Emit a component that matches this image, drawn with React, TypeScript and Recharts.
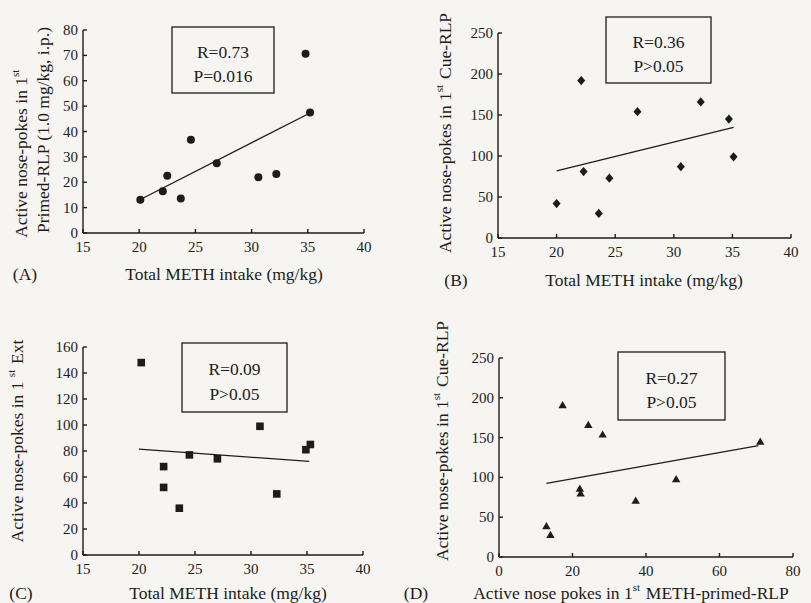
import React from 'react';
import { ScatterChart, Scatter, XAxis, YAxis, ReferenceLine } from 'recharts';

const W = 811;
const H = 603;
const FONT = '"Liberation Serif", "DejaVu Serif", serif';
const INK = '#1c1c1c';

// (A) total METH intake vs active nose-pokes in 1st primed reinstatement
const intakeA = [20.1, 22.1, 22.5, 23.7, 24.6, 26.9, 30.6, 32.2, 34.8, 35.2];
const primedA = [13.1, 16.5, 22.6, 13.6, 36.7, 27.5, 22.0, 23.3, 70.6, 47.5];
const fitA = [{ x: 20.1, y: 13.2 }, { x: 35.2, y: 47.3 }];

// (B) total METH intake vs 1st cue reinstatement
const intakeB = [20.0, 22.1, 22.3, 23.6, 24.5, 26.9, 30.6, 32.3, 34.7, 35.1];
const cueB = [42, 192, 81, 30, 73, 154, 87, 166, 145, 99];
const fitB = [{ x: 20.0, y: 82 }, { x: 35.1, y: 135 }];

// (C) total METH intake vs 1st extinction session
const intakeC = [20.2, 22.2, 22.2, 23.6, 24.5, 27.0, 30.8, 32.3, 34.9, 35.3];
const extC = [148, 68, 52, 36, 77, 74, 99, 47, 81, 85];
const fitC = [{ x: 20.0, y: 81.5 }, { x: 35.2, y: 72 }];

// (D) primed reinstatement vs cue reinstatement
const primedD = [12.9, 14.0, 17.3, 22.0, 22.2, 24.3, 28.2, 37.2, 48.2, 71.1];
const cueD = [39, 28, 191, 86, 80, 166, 154, 71, 98, 145];
const fitD = [{ x: 12.9, y: 92.5 }, { x: 70.6, y: 140 }];

const methTicks = [15, 20, 25, 30, 35, 40];
const primedTicks = [0, 20, 40, 60, 80];
const ticksA = [0, 10, 20, 30, 40, 50, 60, 70, 80];
const ticks250 = [0, 50, 100, 150, 200, 250];
const ticksC = [0, 20, 40, 60, 80, 100, 120, 140, 160];

const toPoints = (xs: number[], ys: number[]) => xs.map((x, i) => ({ x, y: ys[i] }));

const marker = (kind: string) => (props: any) => {
  const { cx, cy } = props;
  if (cx == null || cy == null) return <g />;
  if (kind === 'circle') return <circle cx={cx} cy={cy} r={4} fill={INK} />;
  if (kind === 'square') return <rect x={cx - 3.8} y={cy - 3.8} width={7.6} height={7.6} fill={INK} />;
  if (kind === 'diamond')
    return <polygon points={`${cx},${cy - 4.6} ${cx + 4},${cy} ${cx},${cy + 4.6} ${cx - 4},${cy}`} fill={INK} />;
  return <polygon points={`${cx},${cy - 4} ${cx + 4.2},${cy + 3.2} ${cx - 4.2},${cy + 3.2}`} fill={INK} />;
};

const textStyle = { fill: INK, fontSize: 17.5, fontFamily: FONT };

// serif tick labels; the axis passes the computed anchor position
const XTick = (props: any) => (
  <text x={props.x} y={props.y + 8} textAnchor="middle" style={{ fill: INK, fontSize: 15, fontFamily: FONT }}>
    {props.payload.value}
  </text>
);
const YTick = (props: any) => (
  <text x={props.x} y={props.y} textAnchor="end" dominantBaseline="central" style={{ fill: INK, fontSize: 15, fontFamily: FONT }}>
    {props.payload.value}
  </text>
);

const Sup = ({ children }: { children: string }) => (
  <>
    <tspan dy={-6} fontSize={11}>{children}</tspan>
    <tspan dy={6}>{'\u200a'}</tspan>
  </>
);

const VTitle = ({ x, y, children }: { x: number; y: number; children: React.ReactNode }) => (
  <text
    x={x}
    y={y}
    transform={`rotate(-90 ${x} ${y})`}
    textAnchor="middle"
    dominantBaseline="central"
    style={textStyle}
  >
    {children}
  </text>
);

const HText = ({ x, y, children }: { x: number; y: number; children: React.ReactNode }) => (
  <text x={x} y={y} textAnchor="middle" dominantBaseline="central" style={textStyle}>
    {children}
  </text>
);

const StatBox = ({ x1, y1, x2, y2, r, p }: { x1: number; y1: number; x2: number; y2: number; r: string; p: string }) => {
  const cx = (x1 + x2) / 2;
  const h = y2 - y1;
  return (
    <g>
      <rect x={x1} y={y1} width={x2 - x1} height={h} fill="none" stroke={INK} strokeWidth={1.3} />
      <HText x={cx} y={y1 + h * 0.38}>{r}</HText>
      <HText x={cx} y={y1 + h * 0.74}>{p}</HText>
    </g>
  );
};

interface PanelProps {
  data: { x: number; y: number }[];
  fit: { x: number; y: number }[];
  xDomain: [number, number];
  xTicks: number[];
  yDomain: [number, number];
  yTicks: number[];
  margin: { top: number; right: number; bottom: number; left: number };
  shape: string;
  children?: React.ReactNode;
}

const Panel = ({ data, fit, xDomain, xTicks, yDomain, yTicks, margin, shape, children }: PanelProps) => (
  <div style={{ position: 'absolute', left: 0, top: 0 }}>
    <ScatterChart width={W} height={H} margin={margin}>
      <XAxis
        type="number"
        dataKey="x"
        domain={xDomain}
        ticks={xTicks}
        interval={0}
        height={20}
        stroke={INK}
        strokeWidth={1.4}
        tickSize={-4}
        tickMargin={15}
        tick={<XTick />}
        allowDataOverflow
      />
      <YAxis
        type="number"
        dataKey="y"
        domain={yDomain}
        ticks={yTicks}
        interval={0}
        width={30}
        stroke={INK}
        strokeWidth={1.4}
        tickSize={-4}
        tickMargin={9}
        tick={<YTick />}
        allowDataOverflow
      />
      <ReferenceLine segment={fit} stroke={INK} strokeWidth={1.3} ifOverflow="visible" />
      <Scatter data={data} shape={marker(shape)} isAnimationActive={false} />
      {children}
    </ScatterChart>
  </div>
);

export default function App() {
  return (
    <div style={{ position: 'absolute', left: 0, top: 0, width: W, height: H, background: '#f6f5f1', fontFamily: FONT }}>
      <Panel
        data={toPoints(intakeA, primedA)}
        fit={fitA}
        xDomain={[15, 40]}
        xTicks={methTicks}
        yDomain={[0, 80]}
        yTicks={ticksA}
        margin={{ top: 30, right: 447, bottom: 350, left: 53 }}
        shape="circle"
      >
        <VTitle x={21} y={153}>
          Active nose-pokes in 1<Sup>st</Sup>
        </VTitle>
        <VTitle x={43} y={130}>Primed-RLP (1.0 mg/kg, i.p.)</VTitle>
        <HText x={224} y={274}>Total METH intake (mg/kg)</HText>
        <HText x={25} y={274}>(A)</HText>
        <StatBox x1={172} y1={27} x2={274} y2={93} r="R=0.73" p="P=0.016" />
      </Panel>

      <Panel
        data={toPoints(intakeB, cueB)}
        fit={fitB}
        xDomain={[15, 40]}
        xTicks={methTicks}
        yDomain={[0, 250]}
        yTicks={ticks250}
        margin={{ top: 33, right: 20, bottom: 345, left: 468 }}
        shape="diamond"
      >
        <VTitle x={445} y={133}>
          Active nose-pokes in 1<Sup>st</Sup> Cue-RLP
        </VTitle>
        <HText x={644} y={280}>Total METH intake (mg/kg)</HText>
        <HText x={456} y={280}>(B)</HText>
        <StatBox x1={606} y1={17} x2={711} y2={83} r="R=0.36" p="P>0.05" />
      </Panel>

      <Panel
        data={toPoints(intakeC, extC)}
        fit={fitC}
        xDomain={[15, 40]}
        xTicks={methTicks}
        yDomain={[0, 160]}
        yTicks={ticksC}
        margin={{ top: 347, right: 448, bottom: 28, left: 53 }}
        shape="square"
      >
        <VTitle x={17} y={441}>
          Active nose-pokes in 1 <Sup>st</Sup> Ext
        </VTitle>
        <HText x={228} y={593}>Total METH intake (mg/kg)</HText>
        <HText x={21} y={593}>(C)</HText>
        <StatBox x1={182} y1={343} x2={287} y2={412} r="R=0.09" p="P>0.05" />
      </Panel>

      <Panel
        data={toPoints(primedD, cueD)}
        fit={fitD}
        xDomain={[0, 80]}
        xTicks={primedTicks}
        yDomain={[0, 250]}
        yTicks={ticks250}
        margin={{ top: 358, right: 18, bottom: 26, left: 469 }}
        shape="triangle"
      >
        <VTitle x={442} y={441}>
          Active nose-pokes in 1<Sup>st</Sup> Cue-RLP
        </VTitle>
        <HText x={631} y={593}>
          Active nose pokes in 1<Sup>st</Sup> METH-primed-RLP
        </HText>
        <HText x={416} y={593}>(D)</HText>
        <StatBox x1={618} y1={352} x2={725} y2={420} r="R=0.27" p="P>0.05" />
      </Panel>
    </div>
  );
}
